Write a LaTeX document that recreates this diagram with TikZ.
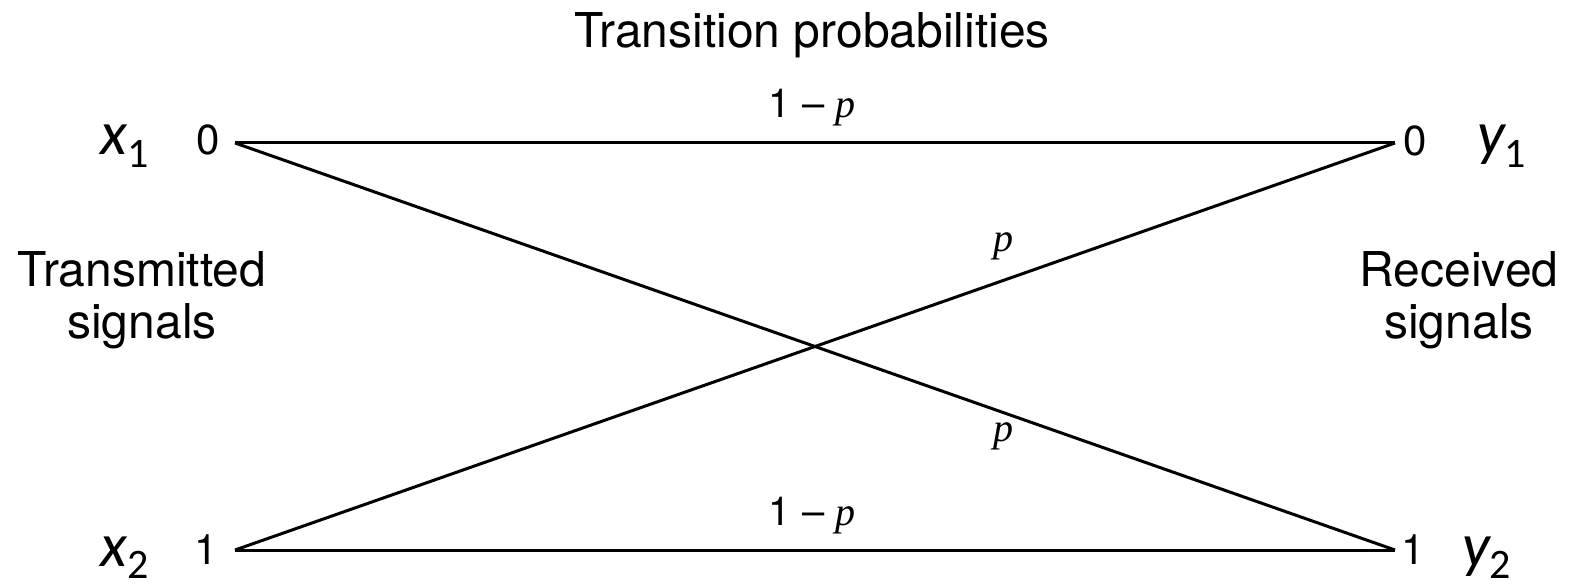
\documentclass[tikz,border=0pt]{standalone}
\usepackage{fontspec}
\setmainfont{TeX Gyre Heros}
\newfontfamily\calib{Carlito}
\newfontfamily\serifit{Liberation Serif}
\begin{document}
\begin{tikzpicture}[x=1pt,y=-1pt,
  lbl/.style={inner sep=0pt, font=\fontsize{48}{52}\selectfont},
  digit/.style={inner sep=0pt, font=\fontsize{42}{42}\selectfont},
  prob/.style={inner sep=0pt, font=\fontsize{40}{40}\selectfont},
  var/.style={inner sep=0pt, anchor=base west, font=\calib\itshape\fontsize{62}{62}\selectfont},
  chan/.style={line width=3pt}]
\useasboundingbox (0,0) rectangle (1569,588);
\newcommand{\pit}{{\serifit\itshape p}}
\newcommand{\subs}[1]{\raisebox{-0.2em}{\fontsize{42}{42}\selectfont\upshape #1}}
% endpoints
\coordinate (A) at (235,143);
\coordinate (B) at (1395,143);
\coordinate (C) at (235,550);
\coordinate (D) at (1395,550);
% title
\node[lbl, anchor=base] (title) at (812,48) {Transition probabilities};
% digits
\node[digit] (l0) at (208,140) {0};
\node[digit] (l1) at (206,550) {1};
\node[digit] (r0) at (1415,141) {0};
\node[digit] (r1) at (1413,550) {1};
% variables
\node[var] (x1) at (100,155) {x\subs{1}};
\node[var] (x2) at (100,566) {x\subs{2}};
\node[var] (y1) at (1477,155) {y\subs{1}};
\node[var] (y2) at (1462,566) {y\subs{2}};
% side labels
\node[lbl, align=center, anchor=base] (tx) at (142,338) {Transmitted\\signals};
\node[lbl, align=center, anchor=base] (rx) at (1459,338) {Received\\signals};
% channel
\draw[chan] (A) -- (B);
\draw[chan] (C) -- (D);
\draw[chan] (A) -- (D);
\draw[chan] (C) -- (B);
% probabilities
\node[prob, anchor=base] (p00) at (812,118) {1 – \pit};
\node[prob, anchor=base] (p11) at (812,525) {1 – \pit};
\node[prob] (p01) at (1003,246) {\pit};
\node[prob] (p10) at (1003,436) {\pit};
\end{tikzpicture}
\end{document}
